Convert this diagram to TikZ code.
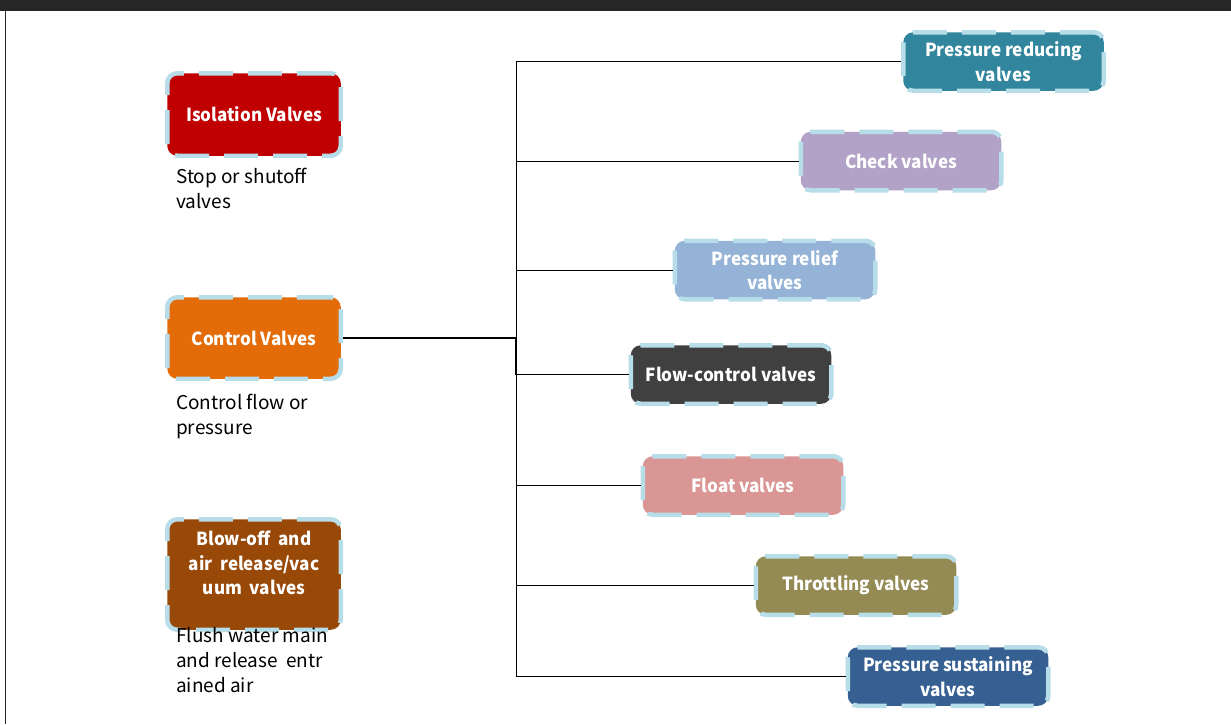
\documentclass[tikz,border=0pt]{standalone}
\usepackage{fontspec}
\setmainfont{Noto Sans CJK KR}[BoldFeatures={FakeStretch=0.95}]
\definecolor{barcol}{HTML}{262626}
\definecolor{edgecol}{HTML}{B7DDE8}
\definecolor{isocol}{HTML}{C00000}
\definecolor{ctrlcol}{HTML}{E36C09}
\definecolor{blowcol}{HTML}{984807}
\definecolor{prcol}{HTML}{31859C}
\definecolor{checkcol}{HTML}{B3A2C7}
\definecolor{reliefcol}{HTML}{95B3D7}
\definecolor{flowcol}{HTML}{404040}
\definecolor{floatcol}{HTML}{D99694}
\definecolor{throtcol}{HTML}{948A54}
\definecolor{sustcol}{HTML}{376092}
\begin{document}
\begin{tikzpicture}[x=1pt,y=-1pt,
  valvebox/.style={rectangle, draw=edgecol, line width=4.5pt,
    dash pattern=on 34pt off 15pt, rounded corners=10pt,
    inner sep=0pt, text=white, align=center,
    font=\bfseries\fontsize{18}{24.5}\selectfont},
  leftbox/.style={valvebox, minimum width=173.5pt},
  rightbox/.style={valvebox, minimum width=200.5pt, minimum height=58.5pt},
  boxtext/.style={text=white, align=center, inner sep=0pt,
    font=\bfseries\fontsize{18}{24.5}\selectfont},
  note/.style={anchor=north west, align=left, inner sep=0pt,
    font=\fontsize{19}{25}\selectfont},
  branch/.style={draw=black, line width=1pt}]
\path[use as bounding box] (0,0) rectangle (1231,724);
% header band and left rule
\fill[barcol] (0,0) rectangle (1231,10.5);
\draw[barcol, line width=1.3pt] (5.6,10.5) -- (5.6,724);

% valve categories
\node[leftbox, fill=isocol, minimum height=82.5pt] (iso) at (254,114.5) {Isolation Valves};
\node[note] (isonote) at (176,168) {Stop or shutoff\\valves};

\node[leftbox, fill=ctrlcol, minimum height=81.5pt] (ctrl) at (254,338) {Control Valves};
\node[note] (ctrlnote) at (176,394) {Control flow or\\pressure};

\node[leftbox, fill=blowcol, minimum height=110.5pt] (blow) at (254,574.5) {};
\node[boxtext] (blowtext) at (254,563) {Blow-off\ \ and\\air\ \ release/vac\\uum\ \ valves};
\node[note] (blownote) at (176,627) {Flush water main\\and release\ \ entr\\ained air};

% control valve types
\node[rightbox, fill=prcol]     (pr)     at (1003.5,61.5) {Pressure reducing\\valves};
\node[rightbox, fill=checkcol]  (check)  at (901,161)    {Check valves};
\node[rightbox, fill=reliefcol] (relief) at (775,270)    {Pressure relief\\valves};
\node[rightbox, fill=flowcol]   (flow)   at (731,374.5)  {Flow-control valves};
\node[rightbox, fill=floatcol]  (float)  at (743,485.5)  {Float valves};
\node[rightbox, fill=throtcol]  (throt)  at (856,585.5)  {Throttling valves};
\node[rightbox, fill=sustcol]   (sust)   at (948,676.5)  {Pressure sustaining\\valves};

% tree connectors
\coordinate (trunk) at (516,338);
\draw[line width=1.6pt] (ctrl.east) -- (trunk) -- (trunk |- flow.west);
\foreach \n in {pr,check,relief,flow,float,throt,sust}
  \draw[branch] (trunk |- \n.west) -- (\n.west);
\draw[branch] (trunk |- pr.west) -- (trunk |- sust.west);
\end{tikzpicture}
\end{document}
